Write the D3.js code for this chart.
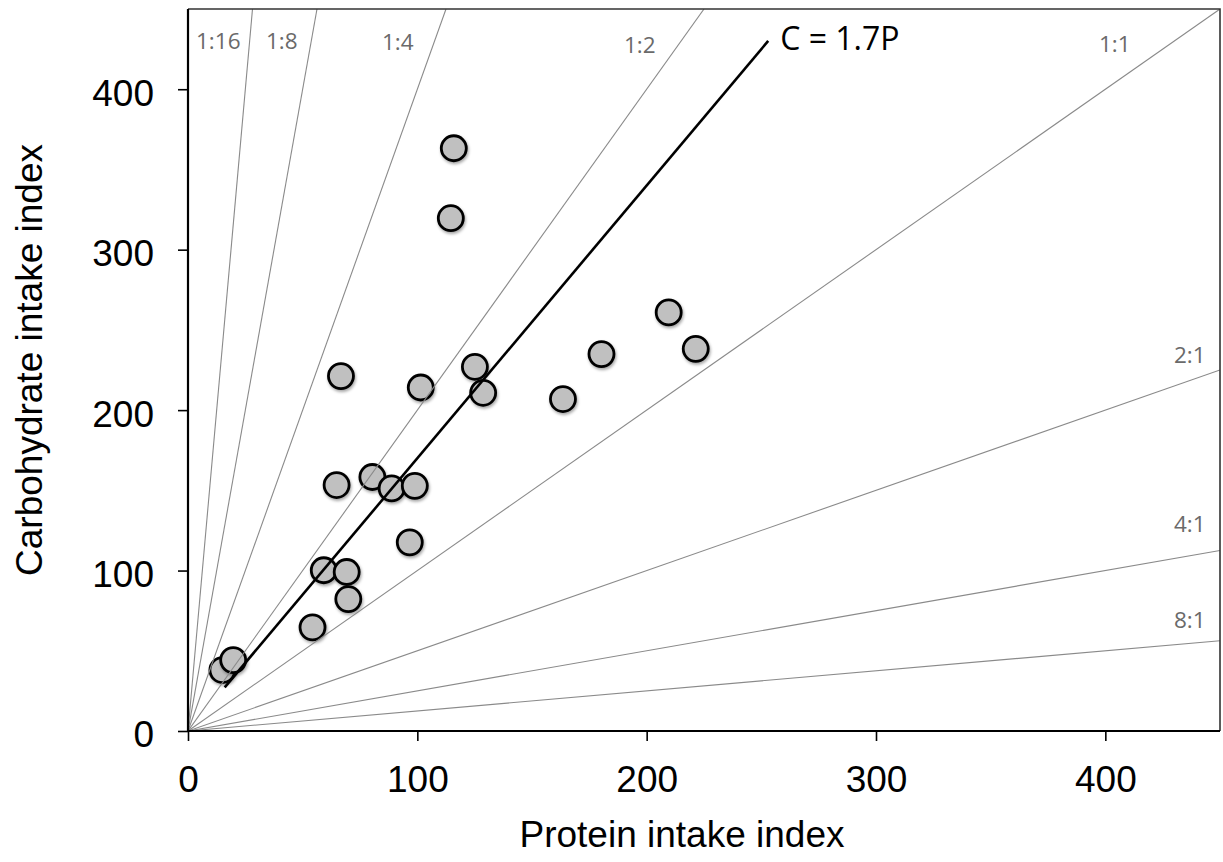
<!DOCTYPE html>
<html>
<head>
<meta charset="utf-8">
<script src="https://cdn.jsdelivr.net/npm/d3@7"></script>
<style>
  html, body { margin: 0; padding: 0; background: #fff; }
  svg { display: block; }
</style>
</head>
<body>
<div id="chart"></div>
<script>
// Protein and carbohydrate intake indices, one entry per observation
const protein = [115.9, 114.6, 66.7, 101.5, 125.1, 128.7, 163.5, 180.3, 209.6, 221.4,
                 64.8, 80.4, 88.8, 98.9, 96.7, 59.2, 69.2, 69.9, 54.3, 15.0, 19.7];
const carbohydrate = [363.2, 319.6, 221.2, 214.1, 227.0, 210.8, 206.9, 234.9, 260.9, 238.2,
                      153.3, 158.3, 151.2, 152.8, 117.6, 100.2, 99.1, 82.2, 64.6, 38.0, 44.2];

// Protein:carbohydrate ratio rails (C = P * carbPerProtein)
const railLabels = ["1:16", "1:8", "1:4", "1:2", "1:1", "2:1", "4:1", "8:1"];
const railCarbPerProtein = [16, 8, 4, 2, 1, 0.5, 0.25, 0.125];

// Fitted relationship C = 1.7P
const fitSlope = 1.7;
const fitProteinRange = [16, 253];
const fitLabel = "C = 1.7P";

// Axis ticks and domains
const xTicks = [0, 100, 200, 300, 400];
const yTicks = [0, 100, 200, 300, 400];
const xDomain = [0, 450];
const yDomain = [0, 450];
const xTitle = "Protein intake index";
const yTitle = "Carbohydrate intake index";

const W = 1223, H = 862;
const margin = { left: 188, top: 9, right: 3, bottom: 131 };
const pw = W - margin.left - margin.right;
const ph = H - margin.top - margin.bottom;

const x = d3.scaleLinear().domain(xDomain).range([0, pw]);
const y = d3.scaleLinear().domain(yDomain).range([ph, 0]);

const svg = d3.select("#chart").append("svg")
  .attr("width", W).attr("height", H);

const defs = svg.append("defs");
defs.append("clipPath").attr("id", "plot-clip")
  .append("rect").attr("width", pw).attr("height", ph);
const shadow = defs.append("filter").attr("id", "dot-shadow")
  .attr("x", "-50%").attr("y", "-50%").attr("width", "200%").attr("height", "200%");
shadow.append("feDropShadow")
  .attr("dx", 1).attr("dy", 2).attr("stdDeviation", 1.6)
  .attr("flood-color", "#000").attr("flood-opacity", 0.35);

const g = svg.append("g").attr("transform", `translate(${margin.left},${margin.top})`);

// Data points
const points = d3.range(protein.length).map(i => ({ p: protein[i], c: carbohydrate[i] }));
g.append("g").attr("clip-path", "url(#plot-clip)")
  .selectAll("circle").data(points).join("circle")
  .attr("cx", d => x(d.p))
  .attr("cy", d => y(d.c))
  .attr("r", 12.5)
  .attr("fill", "#c0c0c0")
  .attr("stroke", "#000")
  .attr("stroke-width", 2.8)
  .attr("filter", "url(#dot-shadow)");

// Ratio rails from the origin to the plot edge
const rails = railLabels.map((lab, i) => {
  const k = railCarbPerProtein[i];
  const pEnd = Math.min(xDomain[1], yDomain[1] / k);
  return { label: lab, k, pEnd, cEnd: pEnd * k };
});
g.append("g").attr("clip-path", "url(#plot-clip)")
  .selectAll("line").data(rails).join("line")
  .attr("x1", x(0)).attr("y1", y(0))
  .attr("x2", d => x(d.pEnd)).attr("y2", d => y(d.cEnd))
  .attr("stroke", "#8a8a8a")
  .attr("stroke-width", 1.1);

// Rail labels: steep rails labelled along the top, shallow rails along the right edge
const railLabelPos = {
  "1:16": [196, 49], "1:8": [266, 49], "1:4": [382, 50], "1:2": [624, 53],
  "1:1": [1099, 52], "2:1": [1174, 363], "4:1": [1174, 532], "8:1": [1174, 628]
};
svg.append("g").selectAll("text").data(rails).join("text")
  .attr("x", d => railLabelPos[d.label][0])
  .attr("y", d => railLabelPos[d.label][1])
  .attr("font-family", "'Open Sans', sans-serif")
  .attr("font-size", 22.5)
  .attr("fill", "#6a6a6a")
  .text(d => d.label);

// Fitted line
const fitLine = d3.line().x(d => x(d)).y(d => y(fitSlope * d));
g.append("path")
  .datum(fitProteinRange)
  .attr("d", fitLine)
  .attr("fill", "none")
  .attr("stroke", "#000")
  .attr("stroke-width", 2.6);
g.append("text")
  .attr("x", x(fitProteinRange[1]) + 12)
  .attr("y", y(fitSlope * fitProteinRange[1]) + 9)
  .attr("font-family", "'Open Sans', sans-serif")
  .attr("font-size", 32)
  .attr("fill", "#000")
  .text(fitLabel);

// Frame: top and right edges
g.append("path")
  .attr("d", `M0,0H${pw}V${ph}`)
  .attr("fill", "none")
  .attr("stroke", "#333")
  .attr("stroke-width", 1.6);

// Axes
const tickFont = "'Liberation Sans', Arial, sans-serif";
const xAxis = g.append("g").attr("transform", `translate(0,${ph})`)
  .call(d3.axisBottom(x).tickValues(xTicks).tickSize(10).tickPadding(25).tickSizeOuter(0));
const yAxis = g.append("g")
  .call(d3.axisLeft(y).tickValues(yTicks).tickSize(10).tickPadding(24).tickSizeOuter(0));
[xAxis, yAxis].forEach(ax => {
  ax.select(".domain").attr("stroke", "#000").attr("stroke-width", 2.2);
  ax.selectAll(".tick line").attr("stroke", "#000").attr("stroke-width", 1.6);
  ax.selectAll(".tick text")
    .attr("font-family", tickFont)
    .attr("font-size", 37)
    .attr("fill", "#000");
});
yAxis.selectAll(".tick text").attr("dy", "0.43em");
// extend domains to the plot corners
xAxis.select(".domain").attr("d", `M0,0H${pw}`);
yAxis.select(".domain").attr("d", `M0,0V${ph}`);

// Axis titles
svg.append("text")
  .attr("x", 682).attr("y", 847)
  .attr("text-anchor", "middle")
  .attr("font-family", tickFont)
  .attr("font-size", 37)
  .attr("fill", "#000")
  .text(xTitle);
svg.append("text")
  .attr("transform", "translate(42,360) rotate(-90)")
  .attr("text-anchor", "middle")
  .attr("font-family", tickFont)
  .attr("font-size", 37)
  .attr("fill", "#000")
  .text(yTitle);
</script>
</body>
</html>
